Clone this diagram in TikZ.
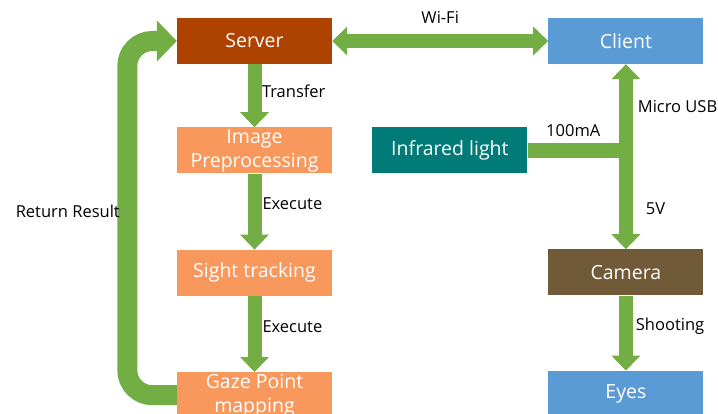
\documentclass[tikz,border=0pt]{standalone}
\usepackage{fontspec}
\setmainfont{Open Sans}
\usetikzlibrary{positioning,arrows.meta}

\definecolor{srvbrown}{HTML}{AE4200}
\definecolor{cliblue}{HTML}{5B9BD5}
\definecolor{steporange}{HTML}{F9985C}
\definecolor{irteal}{HTML}{007B78}
\definecolor{cambrown}{HTML}{705A38}
\definecolor{pipegreen}{HTML}{72AE43}

\begin{document}
\begin{tikzpicture}[
  x=1pt, y=1pt,
  box/.style={minimum width=155pt, minimum height=46pt, inner sep=0pt, align=center,
    text=white, font=\fontsize{19.5}{24}\selectfont},
  lbl/.style={inner sep=0pt, outer sep=0pt, font=\fontsize{16.5}{19}\selectfont},
  flow/.style={draw=pipegreen, line width=14pt, -{Triangle[length=15pt,width=28pt]}},
  both/.style={flow, {Triangle[length=15pt,width=28pt]}-{Triangle[length=15pt,width=28pt]}},
  back/.style={draw=pipegreen, line width=20pt, rounded corners=25pt,
    -{Triangle[length=20pt,width=40pt]}}
]
\useasboundingbox (0,0) rectangle (718,-414);

% processing side
\node[box, fill=srvbrown] (server) at (254.5,-41) {Server};
\node[box, fill=steporange, below=63pt of server] (prep) {Image\\Preprocessing};
\node[box, fill=steporange, below=76pt of prep] (sight) {Sight tracking};
\node[box, fill=steporange, below=76pt of sight] (gaze) {Gaze Point\\mapping};

% capture side
\node[box, fill=cliblue, right=216pt of server] (client) {Client};
\node[box, fill=irteal, right=40pt of prep] (infra) {Infrared light};
\node[box, fill=cambrown, below=185pt of client] (camera) {Camera};
\node[box, fill=cliblue, below=75pt of camera] (eyes) {Eyes};

\draw[flow] (server) -- node[lbl, right=7.5pt, pos=0.43] {Transfer} (prep);
\draw[flow] (prep) -- node[lbl, right=8pt, pos=0.4] {Execute} (sight);
\draw[flow] (sight) -- node[lbl, right=8pt, pos=0.4] {Execute} (gaze);
\draw[back] (gaze.west) -- ++(-49.5,0)
  |- node[lbl, left=7.5pt, pos=0.26] {Return Result} (server.west);

\draw[both] (server) -- node[lbl, above=17pt] {Wi-Fi} (client);
\draw[both] (client) -- node[lbl, right=12pt, pos=0.23] {Micro USB}
  node[lbl, right=20pt, pos=0.78] {5V} (camera);
\draw[draw=pipegreen, line width=15pt] (infra.east)
  -- node[lbl, above=14pt] {100mA} ([xshift=-7pt]infra.east -| client.south);
\draw[flow] (camera) -- node[lbl, right=10pt, pos=0.41] {Shooting} (eyes);
\end{tikzpicture}
\end{document}
